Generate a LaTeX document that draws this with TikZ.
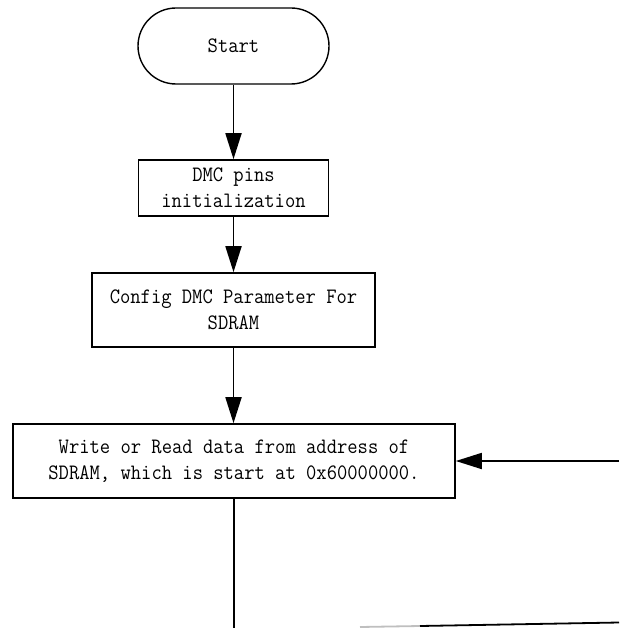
\documentclass[tikz,border=0pt]{standalone}
\usepackage{fontspec}
\newfontfamily\reffont[FakeStretch=0.91]{Latin Modern Mono}
\usetikzlibrary{arrows.meta}
\begin{document}
\begin{tikzpicture}[x=1pt,y=-1pt,
  every node/.style={font=\fontsize{22}{26}\selectfont\reffont, align=center, inner sep=0pt},
  stepbox/.style={draw, line width=1.6pt, rectangle},
  termbox/.style={draw, line width=1.4pt, rectangle, rounded corners=38pt},
  arr/.style={line width=1.8pt, -{Triangle[length=26pt, width=16pt]}},
  ln/.style={line width=1.8pt}]
\useasboundingbox (0,0) rectangle (619,628);
\node[termbox, minimum width=191pt, minimum height=76pt] (start) at (233.5,46) {Start};
\node[stepbox, minimum width=190pt, minimum height=56pt] (dmc) at (233.5,188) {DMC pins\\initialization};
\node[stepbox, minimum width=283pt, minimum height=74pt] (cfg) at (233.5,310) {Config DMC Parameter For\\SDRAM};
\node[stepbox, minimum width=442pt, minimum height=74pt] (rw) at (234,461) {Write or Read data from address of\\SDRAM, which is start at 0x60000000.};
\coordinate (rin) at (619,461);
\coordinate (bot) at (234,628);
\coordinate (b1) at (360,627);
\coordinate (b2) at (420,626);
\coordinate (b3) at (619,622.5);
\draw[arr] (start.south) -- (dmc.north);
\draw[arr] (dmc.south) -- (cfg.north);
\draw[arr] (cfg.south) -- (cfg.south |- rw.north);
\draw[arr] (rin) -- (rw.east);
\draw[ln] (rw.south) -- (bot);
\draw[line width=1.8pt, gray!50] (b1) -- (b2);
\draw[ln] (b2) -- (b3);
\end{tikzpicture}
\end{document}
